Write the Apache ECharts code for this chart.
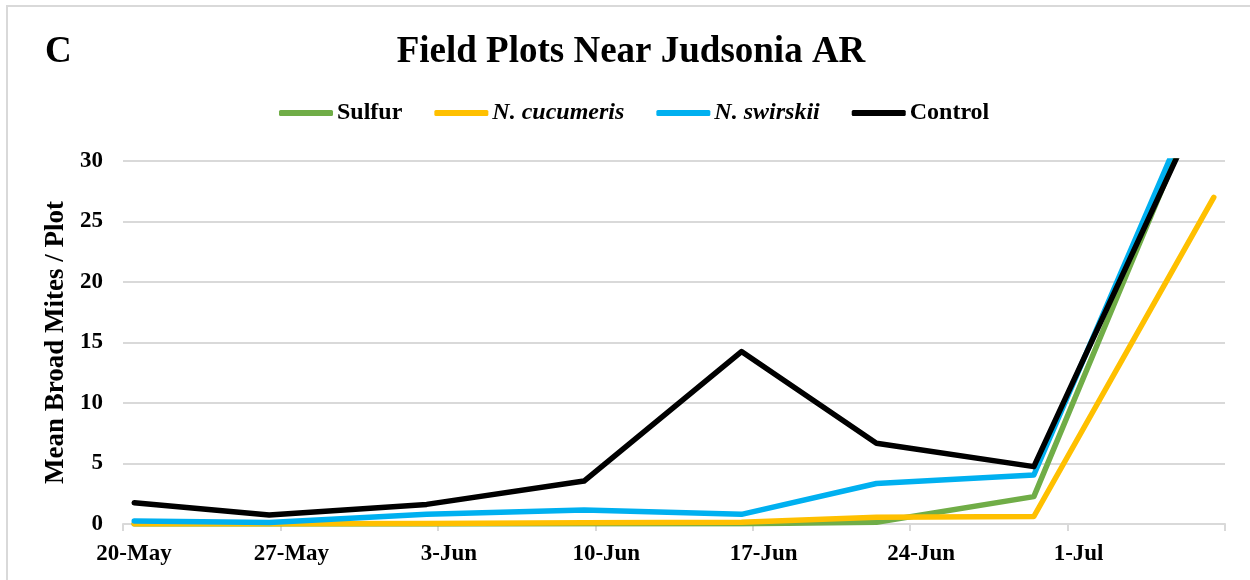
<!DOCTYPE html>
<html>
<head>
<meta charset="utf-8">
<script src="https://cdn.jsdelivr.net/npm/echarts@6/dist/echarts.min.js"></script>
<style>
html,body{margin:0;padding:0;background:#fff;}
#frame{position:absolute;left:6px;top:5px;width:1300px;height:700px;border:2px solid #d9d9d9;box-sizing:border-box;}
#chart{position:absolute;left:0;top:0;width:1250px;height:580px;}
</style>
</head>
<body>
<div id="frame"></div>
<div id="chart"></div>
<script>
// ---- data ----
const axisStart = '2019-05-20';
const sampleDates = ['2019-05-20','2019-05-26','2019-06-02','2019-06-09','2019-06-16','2019-06-22','2019-06-29','2019-07-07'];
const sulfur     = [0.0, 0.0, 0.0, 0.02, 0.02, 0.15, 2.26, 37.9];
const cucumeris  = [0.02, 0.03, 0.05, 0.1, 0.15, 0.55, 0.62, 27.0];
const swirskii   = [0.25, 0.12, 0.8, 1.15, 0.8, 3.35, 4.05, 38.6];
const control    = [1.76, 0.74, 1.62, 3.55, 14.25, 6.67, 4.74, 36.9];
const xTickLabels = ['20-May','27-May','3-Jun','10-Jun','17-Jun','24-Jun','1-Jul',''];
const seriesNames = ['Sulfur','N. cucumeris','N. swirskii','Control'];
const italicNames = ['N. cucumeris','N. swirskii'];

// ---- build ----
const DAY = 86400000;
function dayIndex(s){
  const p = s.split('-').map(Number), q = axisStart.split('-').map(Number);
  return (Date.UTC(p[0],p[1]-1,p[2]) - Date.UTC(q[0],q[1]-1,q[2])) / DAY + 0.5; // dates sit mid-day (between tick marks)
}
const xs = sampleDates.map(dayIndex);
const pair = arr => arr.map((v,i)=>[xs[i], v]);

const FONT = '"Liberation Serif","Times New Roman",serif';
const colors = ['#70AD47','#FFC000','#00B0F0','#000000'];
const allData = [sulfur, cucumeris, swirskii, control];

const chart = echarts.init(document.getElementById('chart'), null, {renderer:'canvas'});
chart.setOption({
  backgroundColor: 'transparent',
  animation: false,
  title: [
    {text:'Field Plots Near Judsonia AR', left: 626, textAlign:'center', top: 29,
     textStyle:{fontFamily:FONT, fontWeight:'bold', fontSize:37, color:'#000'}},
    {text:'C', left: 40, top: 29,
     textStyle:{fontFamily:FONT, fontWeight:'bold', fontSize:37, color:'#000'}}
  ],
  legend: {
    left: 274, top: 96,
    itemWidth: 54, itemHeight: 6, itemGap: 32,
    icon: 'roundRect',
    data: seriesNames,
    formatter: n => italicNames.includes(n) ? '{it|' + n + '}' : '{b|' + n + '}',
    textStyle: {fontFamily:FONT, fontWeight:'bold', fontSize:24, color:'#000', padding:[0,0,0,-1],
      rich: {
        it: {fontFamily:FONT, fontWeight:'bold', fontStyle:'italic', fontSize:24, color:'#000'},
        b: {fontFamily:FONT, fontWeight:'bold', fontSize:24, color:'#000'}
      }}
  },
  grid: {left:123, right:25, top:161, bottom:56, containLabel:false},
  xAxis: {
    type:'value', min:0, max:49, interval:7,
    axisLine:{show:true, lineStyle:{color:'#d9d9d9', width:2}},
    axisTick:{show:true, length:7, lineStyle:{color:'#d9d9d9', width:2}},
    splitLine:{show:false},
    axisLabel:{
      margin: 19,
      padding:[0,0,0,22],
      fontFamily:FONT, fontWeight:'bold', fontSize:23, color:'#000',
      formatter: v => xTickLabels[Math.round(v/7)] || ''
    }
  },
  yAxis: {
    type:'value', min:0, max:30, interval:5,
    name:'Mean Broad Mites / Plot', nameLocation:'middle', nameGap:49,
    nameTextStyle:{fontFamily:FONT, fontWeight:'bold', fontSize:27, color:'#000'},
    axisLine:{show:false}, axisTick:{show:false},
    splitLine:{show:true, lineStyle:{color:'#d9d9d9', width:2}},
    axisLabel:{margin:20, fontFamily:FONT, fontWeight:'bold', fontSize:23, color:'#000'}
  },
  series: seriesNames.map((n,i)=>({
    name:n, type:'line', data: pair(allData[i]),
    showSymbol:false, symbol:'none', clip:true,
    lineStyle:{color:colors[i], width:5.5, cap:'round', join:'round'},
    itemStyle:{color:colors[i]},
    z: 2+i
  }))
});
</script>
</body>
</html>
